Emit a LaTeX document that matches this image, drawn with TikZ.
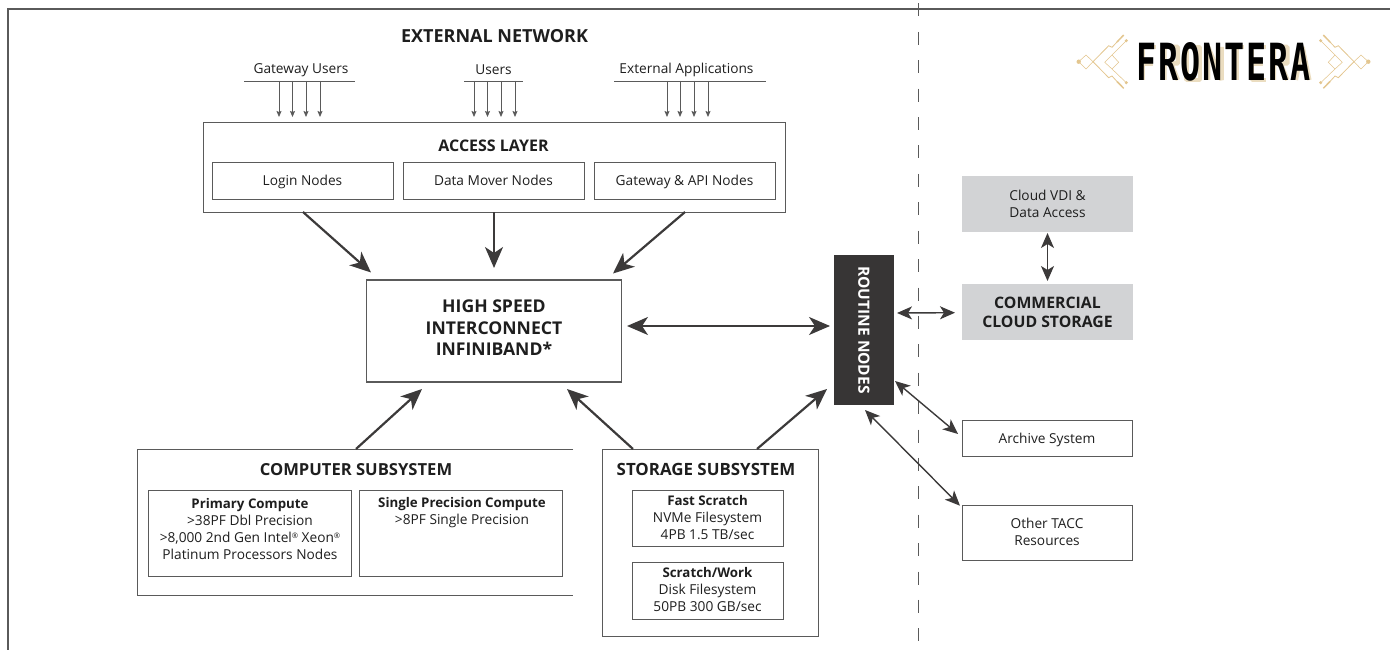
\documentclass[tikz,border=0pt]{standalone}
\usepackage{fontspec}
\usepackage{graphicx}
\setmainfont{Open Sans}
\newfontfamily\logofont[LetterSpace=6]{DejaVu Sans Mono}
\usetikzlibrary{arrows.meta}
\definecolor{ink}{HTML}{1E1E1E}
\definecolor{edge}{HTML}{5A5A5A}
\definecolor{arrowc}{HTML}{3C3A3A}
\definecolor{routinec}{HTML}{373535}
\definecolor{cloudc}{HTML}{D2D3D5}
\definecolor{goldc}{HTML}{E3C68F}
\definecolor{shadowc}{HTML}{EBDDC0}
\newcommand{\bodyfont}{\fontsize{13.7}{17}\selectfont}
\newcommand{\headfont}[2]{\fontsize{#1}{#2}\selectfont\bfseries}
\newcommand{\bfsmall}[1]{{\fontsize{13.3}{17}\selectfont\bfseries #1}}
\newcommand{\regmark}{\raisebox{3.5pt}{\scalebox{.55}{®}}}
\newcommand{\lbl}[2][1.5]{\raisebox{-#1pt}[\height][\depth]{\begin{tabular}{@{}c@{}}#2\end{tabular}}}
\tikzset{
  txt/.style={inner sep=0pt,outer sep=0pt,align=center,text=ink,font=\bodyfont},
  box/.style={draw=edge,line width=1pt,inner sep=0pt,outer sep=0pt,align=center,text=ink,font=\bodyfont},
  cloudbox/.style={fill=cloudc,inner sep=0pt,outer sep=0pt,align=center,text=ink,font=\bodyfont},
  bigarrow/.style={draw=arrowc,line width=2.2pt,-{Stealth[length=21pt,width=18pt,inset=6pt]}},
  bigboth/.style={draw=arrowc,line width=2.2pt,{Stealth[length=21pt,width=18pt,inset=6pt]}-{Stealth[length=21pt,width=18pt,inset=6pt]}},
  midboth/.style={draw=arrowc,line width=1.4pt,{Stealth[length=15pt,width=13pt,inset=4pt]}-{Stealth[length=15pt,width=13pt,inset=4pt]}},
  smallarrow/.style={draw=edge,line width=.8pt,-{Stealth[length=6pt,width=5pt,inset=1pt]}},
  rulec/.style={draw=edge,line width=.8pt},
  frame/.style={draw=edge,line width=1.4pt},
  divider/.style={draw=edge,line width=1pt,dash pattern=on 13pt off 15.4pt},
  orn/.style={draw=goldc,line width=.55pt},
  ornthick/.style={draw=goldc,line width=1.5pt},
  logoshadow/.style={draw=shadowc,line width=4.5pt,line cap=butt,line join=bevel},
}
\newcommand{\ornament}{%
  \fill[goldc] (6.7,31.7) circle (2.2);
  \fill[goldc] (54.3,10.7) circle (1.7);
  \fill[goldc] (54.3,52.7) circle (1.7);
  \draw[orn] (6.7,31.7) -- (14,25) -- (21,31.7) -- (14,39) -- cycle;
  \draw[orn,line width=.8pt] (21,31.7) -- (36.7,15.7) -- (40,17.3) -- (45,12);
  \draw[ornthick] (45,12) -- (51.7,5);
  \draw[orn,line width=.8pt] (21,31.7) -- (36.7,47.7) -- (40,46) -- (45,51.5);
  \draw[ornthick] (45,51.5) -- (51.7,58.3);
  \draw[orn] (54.3,10.7) -- (40,25) -- (32.7,32.3) -- (40,39) -- (54.3,52.7);
  \draw[orn] (40,25) -- (46.7,32.3) -- (40,39);
}
\begin{document}
\begin{tikzpicture}[x=1pt,y=-1pt]
\useasboundingbox (0,0) rectangle (1390,650);
% frame
\coordinate (ftl) at (8,9);
\coordinate (ftr) at (1390,9);
\coordinate (fbl) at (8,650);
\draw[frame] (ftr) -- (ftl) -- (fbl);
% divider
\coordinate (dvt) at (918,3.5);
\coordinate (dvb) at (918,650);
\draw[divider] (dvt) -- (dvb);
% logo
\begin{scope}[shift={(1142.5,47)},x=13.5pt,y=-33pt]
 \draw[logoshadow] (0,1) -- (0,0) -- (1,0) (0,.5) -- (.8,.5);
 \draw[logoshadow,xshift=21.9pt] (0,1) -- (0,0) -- (1,0) -- (1,.5) -- (0,.5) (.5,.5) -- (1,1);
 \draw[logoshadow,xshift=43.8pt] (0,0) rectangle (1,1);
 \draw[logoshadow,xshift=65.7pt] (0,1) -- (0,0) -- (1,1) -- (1,0);
 \draw[logoshadow,xshift=87.6pt] (0,0) -- (1,0) (.5,0) -- (.5,1);
 \draw[logoshadow,xshift=109.5pt] (1,0) -- (0,0) -- (0,1) -- (1,1) (0,.5) -- (.8,.5);
 \draw[logoshadow,xshift=131.4pt] (0,1) -- (0,0) -- (1,0) -- (1,.5) -- (0,.5) (.5,.5) -- (1,1);
 \draw[logoshadow,xshift=153.3pt] (0,1) -- (.5,0) -- (1,1) (.2,.65) -- (.8,.65);
\end{scope}
\begin{scope}[shift={(1072,30)}]\ornament\end{scope}
\begin{scope}[shift={(1375,30)},xscale=-1]\ornament\end{scope}
\node[inner sep=0pt,text=black] (logo) at (1223.5,62) {\resizebox{175pt}{38pt}{\logofont\bfseries FRONTERA}};
% external network
\node[txt,font={\headfont{18}{21}}] (extnet) at (494.5,36.5) {EXTERNAL NETWORK};
\node[txt] (gwusers) at (301,70) {Gateway Users};
\node[txt] (users) at (493.5,70) {Users};
\node[txt] (extapps) at (686.5,70) {External Applications};
\coordinate (gwl) at (244,81); \coordinate (gwr) at (355,81);
\coordinate (usl) at (464,81); \coordinate (usr) at (523,81);
\coordinate (apl) at (614,81); \coordinate (apr) at (766,81);
\draw[rulec] (gwl) -- (gwr);
\draw[rulec] (usl) -- (usr);
\draw[rulec] (apl) -- (apr);
\foreach \d in {35,48.5,62,76} \draw[smallarrow] ([shift={(\d,0)}]gwl) -- ([shift={(\d,36)}]gwl);
\foreach \d in {10,23.5,37,51} \draw[smallarrow] ([shift={(\d,0)}]usl) -- ([shift={(\d,36)}]usl);
\foreach \d in {53,66,80,94} \draw[smallarrow] ([shift={(\d,0)}]apl) -- ([shift={(\d,36)}]apl);
% access layer
\node[box,minimum width=582pt,minimum height=89.5pt] (access) at (494,167.25) {};
\node[txt,font={\headfont{16}{20}}] (accesstitle) at (493.5,146) {ACCESS LAYER};
\node[box,minimum width=181pt,minimum height=36pt] (login) at (302.5,181) {\lbl{Login Nodes}};
\node[box,minimum width=181pt,minimum height=36pt] (mover) at (493.5,181) {\lbl{Data Mover Nodes}};
\node[box,minimum width=181pt,minimum height=36pt] (gateway) at (684.5,181) {\lbl{Gateway \& API Nodes}};
% interconnect
\node[box,line width=1.5pt,minimum width=255pt,minimum height=102pt] (hsi) at (494,331) {};
\node[txt,font={\headfont{17.6}{21.5}}] (hsitext) at (494,328) {HIGH SPEED\\INTERCONNECT\\INFINIBAND*};
% routine
\node[fill=routinec,text=white,font={\headfont{15.5}{17}},inner sep=0pt,outer sep=0pt,minimum width=60pt,minimum height=150pt] (routine) at (864,330) {\rotatebox{-90}{ROUTINE NODES}};
% computer subsystem
\node[inner sep=0pt,outer sep=0pt,minimum width=436pt,minimum height=146pt] (compute) at (355,522) {};
\draw[draw=edge,line width=.9pt] (compute.north east) -- (compute.north west) -- (compute.south west) -- (compute.south east);
\node[txt,font={\headfont{16.6}{20}}] (computetitle) at (356,469.5) {COMPUTER SUBSYSTEM};
\node[box,minimum width=203pt,minimum height=86pt] (primary) at (249.5,533) {};
\node[txt] (primarytext) at (250,529) {\bfsmall{Primary Compute}\\>38PF Dbl Precision\\>8,000 2nd Gen Intel\regmark{} Xeon\regmark\\Platinum Processors Nodes};
\node[box,minimum width=203pt,minimum height=86pt] (single) at (460.5,533) {};
\node[txt] (singletext) at (462,512.5) {\bfsmall{Single Precision Compute}\\>8PF Single Precision};
% storage subsystem
\node[draw=edge,line width=.9pt,inner sep=0pt,outer sep=0pt,minimum width=216pt,minimum height=187pt] (storage) at (710,542.5) {};
\node[txt,font={\headfont{16.9}{20}}] (storagetitle) at (706,469.5) {STORAGE SUBSYSTEM};
\node[box,minimum width=151pt,minimum height=56pt] (fast) at (707.5,518) {\lbl[1]{\bfsmall{Fast Scratch}\\NVMe Filesystem\\4PB 1.5 TB/sec}};
\node[box,minimum width=151pt,minimum height=57pt] (scratch) at (707.5,590.5) {\lbl[1]{\bfsmall{Scratch/Work}\\Disk Filesystem\\50PB 300 GB/sec}};
% cloud side
\node[cloudbox,minimum width=171pt,minimum height=56pt] (vdi) at (1047.5,204) {Cloud VDI \&\\Data Access};
\node[cloudbox,font={\headfont{15.8}{19}},minimum width=171pt,minimum height=56pt] (commercial) at (1047.5,312) {COMMERCIAL\\CLOUD STORAGE};
\node[box,minimum width=170pt,minimum height=36pt] (archive) at (1047,438) {\lbl[2]{Archive System}};
\node[box,minimum width=170pt,minimum height=55pt] (tacc) at (1047,532.5) {\lbl[1]{Other TACC\\Resources}};
% connectors
\draw[bigarrow] ([shift={(100,0)}]access.south west) -- ([shift={(4.5,-7.5)}]hsi.north west);
\draw[bigarrow] (access.south) -- ([shift={(0,-12)}]hsi.north);
\draw[bigarrow] ([shift={(-100,0)}]access.south east) -- ([shift={(-8.5,-6.5)}]hsi.north east);
\draw[bigboth] ([shift={(5.5,-5)}]hsi.east) -- ([shift={(-4,-4)}]routine.west);
\draw[bigarrow] ([shift={(1,0)}]compute.north) -- ([shift={(-72,7)}]hsi.south);
\draw[bigarrow] ([shift={(31,0)}]storage.north west) -- ([shift={(73,7)}]hsi.south);
\draw[bigarrow] ([shift={(-61,0)}]storage.north east) -- ([shift={(-7,-16)}]routine.south west);
\draw[midboth] ([shift={(3,-17)}]routine.east) -- ([shift={(-7,0.7)}]commercial.west);
\draw[midboth] ([shift={(0,1)}]vdi.south) -- ([shift={(0,-3)}]commercial.north);
\draw[midboth] ([shift={(1,-24)}]routine.south east) -- ([shift={(-4,14)}]archive.north west);
\draw[midboth] ([shift={(31,5)}]routine.south west) -- ([shift={(-2,0.7)}]tacc.north west);
\end{tikzpicture}
\end{document}
